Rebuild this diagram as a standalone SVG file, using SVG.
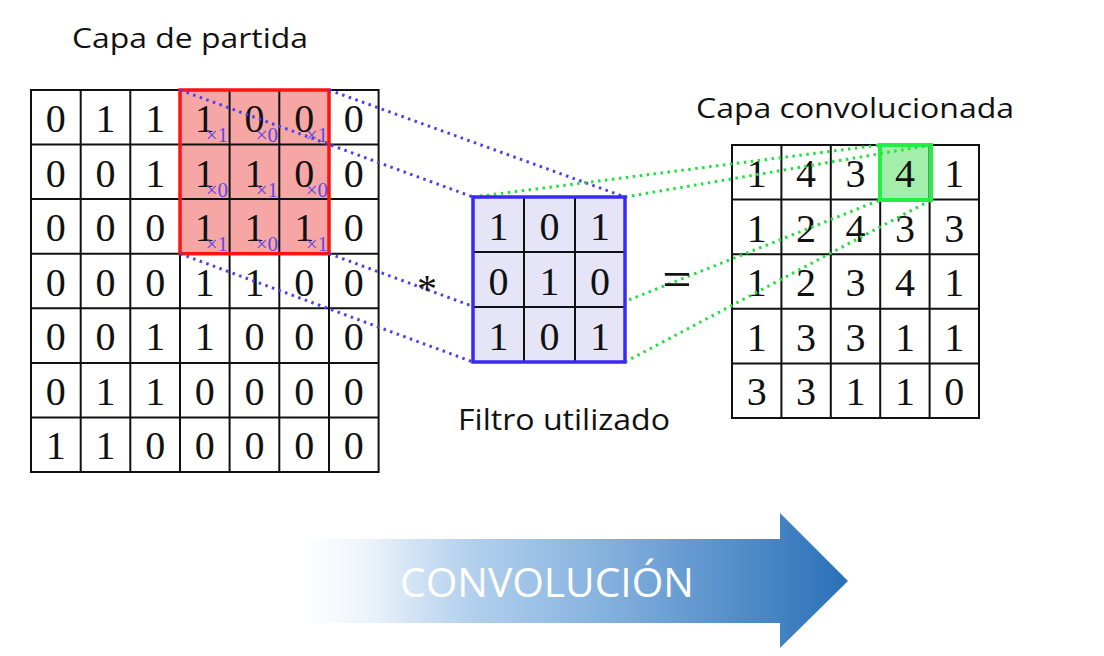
<svg xmlns="http://www.w3.org/2000/svg" width="1104" height="656" viewBox="0 0 1104 656">
<defs>
<linearGradient id="ag" gradientUnits="userSpaceOnUse" x1="300" y1="0" x2="848" y2="0">
<stop offset="0" stop-color="#ffffff"/>
<stop offset="0.12" stop-color="#eef4fb"/>
<stop offset="0.3" stop-color="#b5d2ee"/>
<stop offset="0.55" stop-color="#86b2de"/>
<stop offset="1" stop-color="#2a70b8"/>
</linearGradient>
</defs>
<style>
.d{font-family:"Liberation Serif","DejaVu Serif",serif;font-size:40px;fill:#111;text-anchor:middle}
.s{font-family:"Liberation Serif","DejaVu Serif",serif;font-size:21px;fill:#5f4ae6;text-anchor:end}
.t{font-family:"Open Sans","Liberation Sans",sans-serif;fill:#111}
.g{stroke:#111;stroke-width:2;fill:none}
.bl{stroke:#4a3ff0;stroke-width:3;stroke-dasharray:2.5 4.5;fill:none}
.gr{stroke:#22e040;stroke-width:3;stroke-dasharray:2.5 4.5;fill:none}
</style>
<rect width="1104" height="656" fill="#ffffff"/>

<g id="title-left"><text class="t" x="72" y="48" font-size="27" textLength="236" lengthAdjust="spacingAndGlyphs">Capa de partida</text></g>
<g id="title-right"><text class="t" x="696" y="118" font-size="28" textLength="318" lengthAdjust="spacingAndGlyphs">Capa convolucionada</text></g>
<g id="title-filter"><text class="t" x="458" y="430" font-size="29" textLength="212" lengthAdjust="spacingAndGlyphs">Filtro utilizado</text></g>

<g id="input-layer">
<rect x="180" y="90" width="149" height="163.7" fill="#f7a6a6"/>
<rect x="31" y="90" width="347.6" height="382" class="g"/>
<path class="g" d="M80.7 90V472M130.3 90V472M180 90V472M229.6 90V472M279.3 90V472M329 90V472M31 144.6H378.6M31 199.1H378.6M31 253.7H378.6M31 308.3H378.6M31 362.9H378.6M31 417.4H378.6"/>
<rect x="180" y="90" width="149" height="163.7" fill="none" stroke="#ff1212" stroke-width="3.5"/>
<g>
<text class="d" x="55.8" y="132">0</text><text class="d" x="105.5" y="132">1</text><text class="d" x="155.2" y="132">1</text><text class="d" x="204.8" y="132">1</text><text class="d" x="254.5" y="132">0</text><text class="d" x="304.2" y="132">0</text><text class="d" x="353.8" y="132">0</text>
<text class="d" x="55.8" y="186.6">0</text><text class="d" x="105.5" y="186.6">0</text><text class="d" x="155.2" y="186.6">1</text><text class="d" x="204.8" y="186.6">1</text><text class="d" x="254.5" y="186.6">1</text><text class="d" x="304.2" y="186.6">0</text><text class="d" x="353.8" y="186.6">0</text>
<text class="d" x="55.8" y="241.1">0</text><text class="d" x="105.5" y="241.1">0</text><text class="d" x="155.2" y="241.1">0</text><text class="d" x="204.8" y="241.1">1</text><text class="d" x="254.5" y="241.1">1</text><text class="d" x="304.2" y="241.1">1</text><text class="d" x="353.8" y="241.1">0</text>
<text class="d" x="55.8" y="295.7">0</text><text class="d" x="105.5" y="295.7">0</text><text class="d" x="155.2" y="295.7">0</text><text class="d" x="204.8" y="295.7">1</text><text class="d" x="254.5" y="295.7">1</text><text class="d" x="304.2" y="295.7">0</text><text class="d" x="353.8" y="295.7">0</text>
<text class="d" x="55.8" y="350.3">0</text><text class="d" x="105.5" y="350.3">0</text><text class="d" x="155.2" y="350.3">1</text><text class="d" x="204.8" y="350.3">1</text><text class="d" x="254.5" y="350.3">0</text><text class="d" x="304.2" y="350.3">0</text><text class="d" x="353.8" y="350.3">0</text>
<text class="d" x="55.8" y="404.9">0</text><text class="d" x="105.5" y="404.9">1</text><text class="d" x="155.2" y="404.9">1</text><text class="d" x="204.8" y="404.9">0</text><text class="d" x="254.5" y="404.9">0</text><text class="d" x="304.2" y="404.9">0</text><text class="d" x="353.8" y="404.9">0</text>
<text class="d" x="55.8" y="459.4">1</text><text class="d" x="105.5" y="459.4">1</text><text class="d" x="155.2" y="459.4">0</text><text class="d" x="204.8" y="459.4">0</text><text class="d" x="254.5" y="459.4">0</text><text class="d" x="304.2" y="459.4">0</text><text class="d" x="353.8" y="459.4">0</text>
</g>
<g>
<text class="s" x="228" y="142">×1</text><text class="s" x="278" y="142">×0</text><text class="s" x="328" y="142">×1</text>
<text class="s" x="228" y="196.5">×0</text><text class="s" x="278" y="196.5">×1</text><text class="s" x="328" y="196.5">×0</text>
<text class="s" x="228" y="251">×1</text><text class="s" x="278" y="251">×0</text><text class="s" x="328" y="251">×1</text>
</g>
</g>

<g id="output-layer">
<rect x="880" y="145" width="51" height="55" fill="#a3eeaa"/>
<rect x="732" y="145" width="247" height="273" class="g"/>
<path class="g" d="M781.4 145V418M830.8 145V418M880.2 145V418M929.6 145V418M732 199.6H979M732 254.2H979M732 308.8H979M732 363.4H979"/>
<rect x="880" y="145" width="51" height="55" fill="none" stroke="#22ee44" stroke-width="4"/>
<g>
<text class="d" x="756.7" y="187">1</text><text class="d" x="806.1" y="187">4</text><text class="d" x="855.5" y="187">3</text><text class="d" x="904.9" y="187">4</text><text class="d" x="954.3" y="187">1</text>
<text class="d" x="756.7" y="241.6">1</text><text class="d" x="806.1" y="241.6">2</text><text class="d" x="855.5" y="241.6">4</text><text class="d" x="904.9" y="241.6">3</text><text class="d" x="954.3" y="241.6">3</text>
<text class="d" x="756.7" y="296.2">1</text><text class="d" x="806.1" y="296.2">2</text><text class="d" x="855.5" y="296.2">3</text><text class="d" x="904.9" y="296.2">4</text><text class="d" x="954.3" y="296.2">1</text>
<text class="d" x="756.7" y="350.8">1</text><text class="d" x="806.1" y="350.8">3</text><text class="d" x="855.5" y="350.8">3</text><text class="d" x="904.9" y="350.8">1</text><text class="d" x="954.3" y="350.8">1</text>
<text class="d" x="756.7" y="405.4">3</text><text class="d" x="806.1" y="405.4">3</text><text class="d" x="855.5" y="405.4">1</text><text class="d" x="904.9" y="405.4">1</text><text class="d" x="954.3" y="405.4">0</text>
</g>
</g>

<g id="connectors">
<path class="bl" d="M180 90L473 197M329 90L625 197M180 253.7L473 362M329 253.7L625 362"/>
<path class="gr" d="M473 197L880 145M625 197L931 145M473 362L880 200M625 362L931 200"/>
</g>

<g id="operators">
<text class="d" x="427" y="302">*</text>
<text class="d" x="677" y="297" style="font-size:52px">=</text>
</g>

<g id="filter">
<rect x="473" y="197" width="152" height="165" fill="#e5e5f7"/>
<path class="g" d="M524 197V362M575 197V362M473 252H625M473 307H625"/>
<rect x="473" y="197" width="152" height="165" fill="none" stroke="#3a28f5" stroke-width="3.5"/>
<text class="d" x="498.5" y="240">1</text><text class="d" x="549.5" y="240">0</text><text class="d" x="600" y="240">1</text>
<text class="d" x="498.5" y="295">0</text><text class="d" x="549.5" y="295">1</text><text class="d" x="600" y="295">0</text>
<text class="d" x="498.5" y="350">1</text><text class="d" x="549.5" y="350">0</text><text class="d" x="600" y="350">1</text>
</g>

<g id="arrow">
<path d="M300 539H780V513L848 581L780 648V623H300Z" fill="url(#ag)"/>
<text x="400" y="597" font-family="'Open Sans','Liberation Sans',sans-serif" font-size="41" fill="#ffffff" textLength="294" lengthAdjust="spacingAndGlyphs">CONVOLUCIÓN</text>
</g>
</svg>
